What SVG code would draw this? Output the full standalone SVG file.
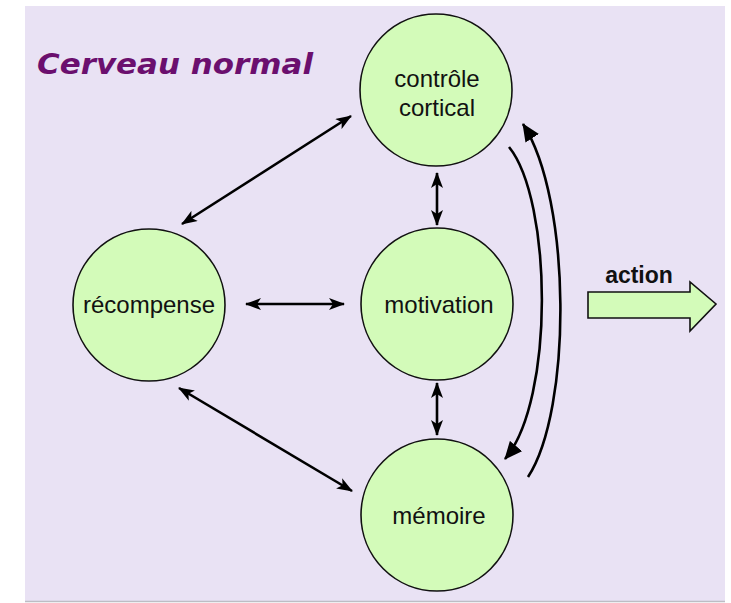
<svg xmlns="http://www.w3.org/2000/svg" width="731" height="603" viewBox="0 0 731 603">
  <defs>
    <marker id="head" viewBox="0 0 16 12" refX="15" refY="6" markerWidth="16" markerHeight="12" markerUnits="userSpaceOnUse" orient="auto-start-reverse">
      <path d="M0,0 L16,6 L0,12 L4,6 z" fill="#000"/>
    </marker>
    <marker id="bighead" viewBox="0 0 18 16" refX="17" refY="8" markerWidth="18" markerHeight="16" markerUnits="userSpaceOnUse" orient="auto">
      <path d="M0,0 L18,8 L0,16 z" fill="#000"/>
    </marker>
  </defs>
  <style>
    .node { fill: #d3fbb9; stroke: #111; stroke-width: 1.6; }
    .label { font-family: "Liberation Sans", Arial, sans-serif; font-size: 24px; fill: #111; text-anchor: middle; }
    .link { fill: none; stroke: #000; stroke-width: 2.6; }
  </style>

  <rect x="0" y="0" width="731" height="603" fill="#ffffff"/>
  <rect x="25" y="6" width="700" height="596" fill="#e9e2f4"/>
  <line x1="25" y1="601.5" x2="725" y2="601.5" stroke="#bdbdc4" stroke-width="1.5"/>

  <text x="37" y="74" font-family="'DejaVu Sans', Verdana, sans-serif" font-weight="bold" font-style="italic" font-size="29" fill="#6b0f6e" textLength="276" lengthAdjust="spacingAndGlyphs">Cerveau normal</text>

  <g id="connectors">
    <line class="link" x1="182" y1="224" x2="351" y2="116" marker-start="url(#head)" marker-end="url(#head)"/>
    <line class="link" x1="179" y1="388" x2="352" y2="491" marker-start="url(#head)" marker-end="url(#head)"/>
    <line class="link" x1="246" y1="304" x2="344" y2="304" marker-start="url(#head)" marker-end="url(#head)"/>
    <line class="link" x1="437" y1="173" x2="437" y2="225" marker-start="url(#head)" marker-end="url(#head)"/>
    <line class="link" x1="437" y1="383" x2="437" y2="435" marker-start="url(#head)" marker-end="url(#head)"/>
    <path class="link" d="M509,147 C552,200 555,400 505,459" marker-end="url(#bighead)"/>
    <path class="link" d="M528,477 C572,410 572,200 523,124" marker-end="url(#bighead)"/>
  </g>

  <g id="controle-cortical">
    <circle class="node" cx="436" cy="90" r="76"/>
    <text class="label" x="437" y="87">contrôle</text>
    <text class="label" x="437" y="116">cortical</text>
  </g>

  <g id="recompense">
    <circle class="node" cx="149" cy="305" r="76"/>
    <text class="label" x="149" y="313">récompense</text>
  </g>

  <g id="motivation">
    <circle class="node" cx="437" cy="304" r="76"/>
    <text class="label" x="439" y="313">motivation</text>
  </g>

  <g id="memoire">
    <circle class="node" cx="437" cy="515" r="76"/>
    <text class="label" x="439" y="524">mémoire</text>
  </g>

  <g id="action">
    <path d="M588,292 L690,292 L690,282 L716,304 L690,331 L690,318 L588,318 z" fill="#d3fbb9" stroke="#111" stroke-width="1.6"/>
    <text x="639" y="283" font-family="'Liberation Sans', Arial, sans-serif" font-weight="bold" font-size="23" fill="#111" text-anchor="middle">action</text>
  </g>
</svg>
